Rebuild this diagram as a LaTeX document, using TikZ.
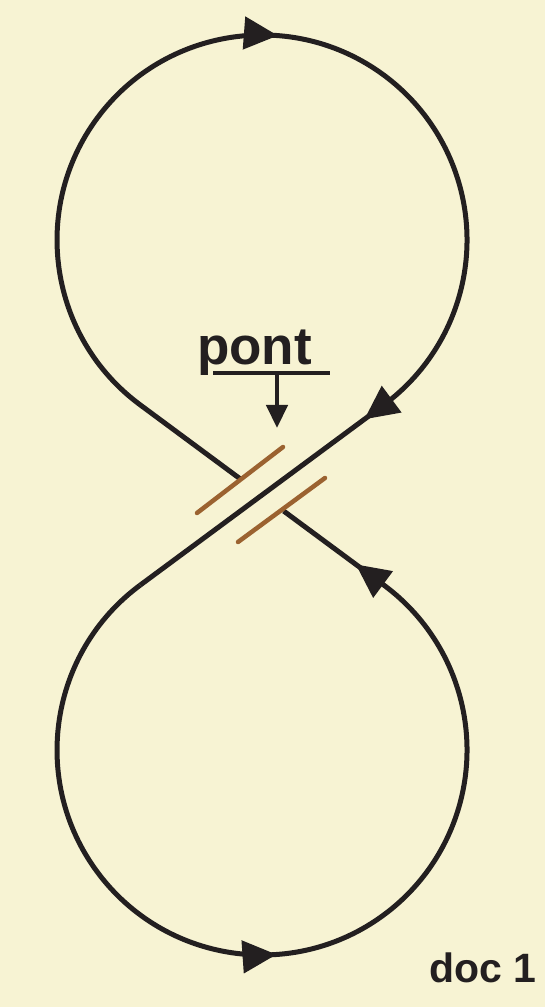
\documentclass[tikz,border=0pt]{standalone}
\usepackage{fontspec}
\setmainfont{Liberation Sans}
\usetikzlibrary{arrows.meta,decorations.markings,calc}
\definecolor{bgcol}{RGB}{247,243,211}
\definecolor{ink}{RGB}{35,31,32}
\definecolor{bridgecol}{RGB}{155,98,48}
\begin{document}
\begin{tikzpicture}[x=1pt,y=1pt,
  strand/.style={draw=ink,line width=5pt},
  bridgeline/.style={draw=bridgecol,line width=4.5pt,line cap=round},
  tri/.tip={Triangle[length=34pt,width=32pt]},
  lbl/.style={text=ink,font=\bfseries\fontsize{53}{53}\selectfont,inner sep=0pt},
  doclbl/.style={text=ink,font=\bfseries\fontsize{41}{41}\selectfont,inner sep=0pt}]
\fill[bgcol] (0,0) rectangle (545,1007);
\useasboundingbox (0,0) rectangle (545,1007);
% geometry
\coordinate (T) at (262,767);
\coordinate (B) at (262,257);
\coordinate (C) at (262,512);
\coordinate (P2) at (140.1,602.2);
\coordinate (P1) at (383.9,602.2);
\coordinate (Q2) at (140.1,421.8);
\coordinate (Q1) at (383.9,421.8);
\coordinate (G1) at ($(C)!27pt!(P2)$);
\coordinate (G2) at ($(C)!27pt!(Q1)$);
% top loop strand (passes over the crossing)
\draw[strand,postaction={decorate},decoration={markings,
   mark=at position 654pt with {\arrow[ink]{tri}},
   mark=at position 1176pt with {\arrow[ink]{tri}}}]
  (G1) -- (P2) arc[start angle=233.5,end angle=-53.5,radius=205] -- (Q2);
% bottom loop strand (broken at the crossing)
\draw[strand,postaction={decorate},decoration={markings,
   mark=at position 528pt with {\arrow[ink]{tri}},
   mark=at position 1062pt with {\arrow[ink]{tri}}}]
  (Q2) arc[start angle=126.5,end angle=413.5,radius=205] -- (G2);
% bridge marks
\coordinate (br1a) at (197,494);
\coordinate (br1b) at (283,560);
\coordinate (br2a) at (238,465);
\coordinate (br2b) at (325,529);
\draw[bridgeline] (br1a) -- (br1b);
\draw[bridgeline] (br2a) -- (br2b);
% label pont
\node[lbl,anchor=base] (pont) at (254.5,642) {pont};
\coordinate (ulL) at (213,634);
\coordinate (ulR) at (330,634);
\coordinate (ulM) at (277,634);
\coordinate (ptip) at (277,579);
\draw[ink,line width=4.5pt] (ulL) -- (ulR);
\draw[ink,line width=4.5pt,-{Triangle[length=23pt,width=21pt]}] (ulM) -- (ptip);
% doc label
\node[doclbl,anchor=base east] (doc) at (537,24) {doc 1};
\end{tikzpicture}
\end{document}
